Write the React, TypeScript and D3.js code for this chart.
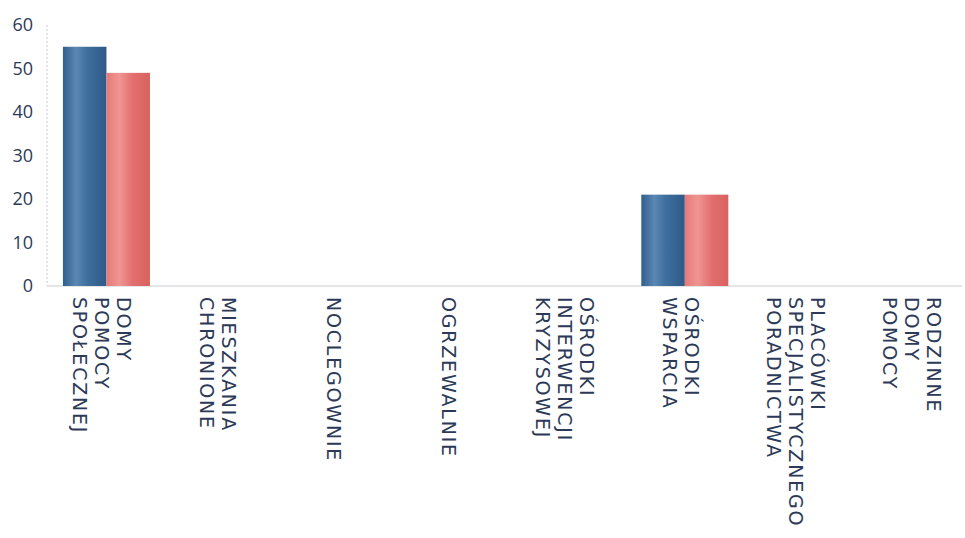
import React from "react";
import * as d3 from "d3";

const categories: string[][] = [
  ["DOMY", "POMOCY", "SPOŁECZNEJ"],
  ["MIESZKANIA", "CHRONIONE"],
  ["NOCLEGOWNIE"],
  ["OGRZEWALNIE"],
  ["OŚRODKI", "INTERWENCJI", "KRYZYSOWEJ"],
  ["OŚRODKI", "WSPARCIA"],
  ["PLACÓWKI", "SPECJALISTYCZNEGO", "PORADNICTWA"],
  ["RODZINNE", "DOMY", "POMOCY"],
];
const seriesA: number[] = [55, 0, 0, 0, 0, 21, 0, 0];
const seriesB: number[] = [49, 0, 0, 0, 0, 21, 0, 0];
const yTicks: number[] = [0, 10, 20, 30, 40, 50, 60];

const W = 965;
const H = 538;
const TEXT = "#2c3a58";
const FONT = "'Open Sans', 'DejaVu Sans', sans-serif";
const LFONT = "'DejaVu Sans', sans-serif";

export default function App() {
  const keys = categories.map((c) => c.join(" "));
  const x = d3.scaleBand<string>().domain(keys).range([48.6, 974]).paddingInner(0).paddingOuter(0);
  const inner = d3.scaleBand<string>().domain(["a", "b"]).range([0, 87]);
  const groupOffset = (x.bandwidth() - 87) / 2;
  const y = d3.scaleLinear().domain([0, 60]).range([286, 25]);
  const series = [
    { key: "a", values: seriesA, grad: "gBlue" },
    { key: "b", values: seriesB, grad: "gRed" },
  ];
  return (
    <svg width={W} height={H} style={{ position: "absolute", left: 0, top: 0, background: "#fff" }}>
      <defs>
        <linearGradient id="gBlue" x1="0" x2="1" y1="0" y2="0">
          <stop offset="0" stopColor="#2f5f8e" />
          <stop offset="0.3" stopColor="#5b87b3" />
          <stop offset="0.55" stopColor="#3f6f9e" />
          <stop offset="1" stopColor="#2e5a88" />
        </linearGradient>
        <linearGradient id="gRed" x1="0" x2="1" y1="0" y2="0">
          <stop offset="0" stopColor="#e57a78" />
          <stop offset="0.3" stopColor="#f09593" />
          <stop offset="0.6" stopColor="#e2706f" />
          <stop offset="1" stopColor="#d9615f" />
        </linearGradient>
      </defs>
      {/* axes */}
      <line x1={47} x2={47} y1={y(60)} y2={y(0)} stroke="#c9ccd3" strokeWidth={1} strokeDasharray="2,2" />
      <line x1={47} x2={962} y1={y(0)} y2={y(0)} stroke="#c9ccd3" strokeWidth={1} />
      {yTicks.map((t) => (
        <text key={t} x={33} y={y(t)} dy="0.35em" textAnchor="end" fontFamily={FONT} fontSize={18} fill={TEXT}>
          {t}
        </text>
      ))}
      {/* bars */}
      {series.map((s) =>
        s.values.map((v, i) => {
          const bx = (x(keys[i]) as number) + groupOffset + (inner(s.key) as number);
          return v > 0 ? (
            <rect key={s.key + i} x={bx} y={y(v)} width={inner.bandwidth()} height={y(0) - y(v)} fill={`url(#${s.grad})`} />
          ) : null;
        })
      )}
      {/* category labels */}
      {categories.map((lines, i) => {
        const cx = (x(keys[i]) as number) + x.bandwidth() / 2;
        const lh = 22;
        const n = lines.length;
        return (
          <g key={keys[i]} transform={`translate(${cx + ((n - 1) * lh) / 2 - 11},297) rotate(90)`}>
            {lines.map((ln, j) => (
              <text key={j} x={0} y={j * lh} fontFamily={LFONT} fontSize={19} letterSpacing={1.8} fill={TEXT}>
                {ln}
              </text>
            ))}
          </g>
        );
      })}
    </svg>
  );
}
